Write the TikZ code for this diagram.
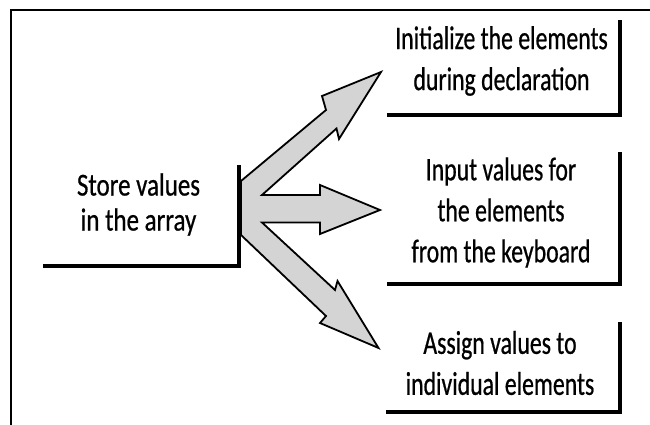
\documentclass[tikz,border=0pt]{standalone}
\usepackage{fontspec}
\newfontfamily\labelfont[FakeStretch=0.72,FakeBold=0.6]{Carlito}
\newfontfamily\srcfont[FakeStretch=0.78,FakeBold=0.6]{Carlito}
\begin{document}
\begin{tikzpicture}[x=1pt,y=-1pt,
  lbl/.style={font=\labelfont\fontsize{33}{41}\selectfont, align=center, inner sep=0pt},
  srclbl/.style={font=\srcfont\fontsize{32}{35}\selectfont, align=center, inner sep=0pt},
  frameline/.style={line width=2pt},
  bracket/.style={line width=4.5pt, line join=miter},
  blockarrow/.style={fill=black!17, draw=black, line width=1.8pt, line join=miter}]
\useasboundingbox (0,0) rectangle (650,425);

% outer frame (top and left edges)
\draw[frameline] (650,10) -- (11,10) -- (11,425);

% three block arrows fanning out from the source bracket
\draw[blockarrow]
  (241,181) -- (326,110) -- (322,96) -- (381,72) -- (339,139) -- (336.5,128.5)
  -- (262,195) -- (320,195) -- (320,185) -- (380,210) -- (320,234) -- (320,222.5)
  -- (262,222.5) -- (335,290) -- (337.5,281) -- (378.5,348) -- (320,323) -- (326,316)
  -- (241,235) -- cycle;

% source box
\node[srclbl] (src) at (138.5,204.5) {Store values\\in the array};
\draw[bracket] (239,165) -- (239,266) -- (43,266);

% target boxes
\node[lbl] (init) at (501.5,61) {Initialize the elements\\during declaration};
\draw[bracket] (620,20) -- (620,115) -- (387,115);

\node[lbl] (input) at (501,212.5) {Input values for\\the elements\\from the keyboard};
\draw[bracket] (620,152) -- (620,284) -- (387,284);

\node[lbl] (assign) at (500,363) {Assign values to\\individual elements};
\draw[bracket] (620,322) -- (620,412) -- (386,412);
\end{tikzpicture}
\end{document}
